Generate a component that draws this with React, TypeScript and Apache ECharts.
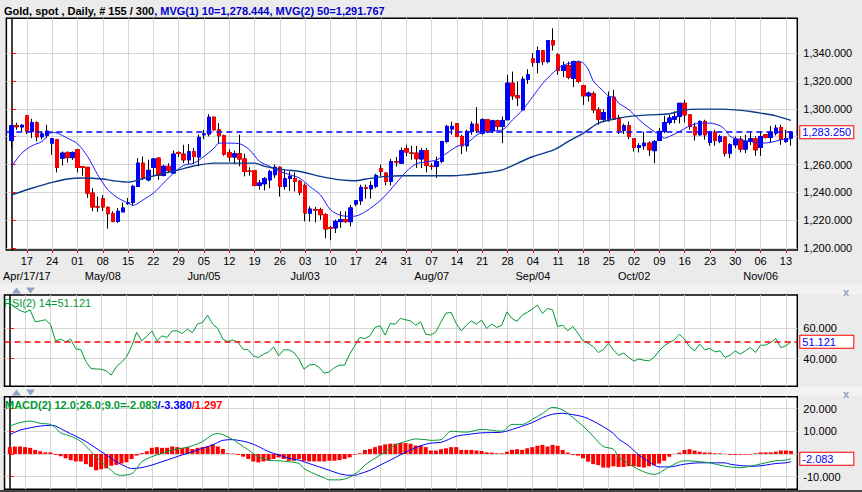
import React, { useEffect, useRef } from 'react';
import * as echarts from 'echarts';

const START_DATE = '2017-04-12';
const N = 155;

function tradingDays(start: string, n: number): string[] {
  const out: string[] = [];
  const d = new Date(start + 'T00:00:00Z');
  while (out.length < n) {
    const wd = d.getUTCDay();
    if (wd !== 0 && wd !== 6) out.push(d.toISOString().slice(0, 10));
    d.setUTCDate(d.getUTCDate() + 1);
  }
  return out;
}
const dates = tradingDays(START_DATE, N);
const mondayIdx = dates
  .map((s, i) => (new Date(s + 'T00:00:00Z').getUTCDay() === 1 ? i : -1))
  .filter((i) => i >= 0);

const monthMarks: [string, string][] = [
  ['2017-04-17', 'Apr/17/17'],
  ['2017-05-08', 'May/08'],
  ['2017-06-05', 'Jun/05'],
  ['2017-07-03', 'Jul/03'],
  ['2017-08-07', 'Aug/07'],
  ['2017-09-04', 'Sep/04'],
  ['2017-10-02', 'Oct/02'],
  ['2017-11-06', 'Nov/06'],
];
const monthIdx = monthMarks.map((m) => dates.indexOf(m[0]));

const opens = [
  1277.3, 1288.0, 1287.0, 1295.0, 1283.8, 1290.0, 1280.0, 1281.0, 1275.4, 1277.8,
  1264.6, 1268.7, 1265.0, 1270.6, 1258.5, 1258.0, 1239.5, 1229.7, 1235.5, 1229.2,
  1224.7, 1219.2, 1226.0, 1232.0, 1232.8, 1244.3, 1261.0, 1249.0, 1258.0, 1264.6,
  1252.2, 1258.7, 1253.9, 1268.7, 1267.5, 1263.4, 1269.2, 1265.4, 1281.4, 1281.9,
  1294.0, 1285.0, 1280.7, 1268.7, 1265.4, 1267.7, 1264.0, 1255.3, 1255.5, 1245.0,
  1246.2, 1249.0, 1252.7, 1258.0, 1244.3, 1250.0, 1250.0, 1248.0, 1245.0, 1225.0,
  1227.5, 1227.5, 1224.0, 1214.5, 1214.5, 1219.0, 1220.4, 1219.0, 1231.6, 1234.0,
  1243.2, 1242.6, 1244.3, 1257.0, 1253.9, 1247.9, 1262.0, 1261.0, 1271.4, 1268.3,
  1268.2, 1264.0, 1270.0, 1258.8, 1258.7, 1262.2, 1276.6, 1285.5, 1289.3, 1280.2,
  1273.5, 1283.8, 1289.0, 1282.6, 1292.2, 1284.3, 1291.4, 1287.4, 1292.2, 1318.5,
  1309.4, 1299.3, 1321.3, 1336.0, 1333.3, 1341.7, 1334.0, 1349.0, 1338.8, 1327.6,
  1331.1, 1322.0, 1333.5, 1316.6, 1309.4, 1310.8, 1299.3, 1292.6, 1292.6, 1308.4,
  1293.4, 1284.5, 1287.8, 1278.5, 1272.3, 1273.5, 1275.4, 1270.0, 1277.3, 1283.8,
  1290.2, 1292.6, 1294.5, 1304.0, 1295.7, 1287.0, 1281.4, 1291.0, 1275.9, 1283.3,
  1276.6, 1279.7, 1268.2, 1274.2, 1278.2, 1271.1, 1276.6, 1278.5, 1272.3, 1281.4,
  1279.5, 1282.6, 1286.6, 1276.6, 1279.0,
];
const closes = [
  1287.8, 1287.2, 1288.2, 1283.8, 1290.2, 1280.0, 1282.0, 1284.0, 1278.5, 1258.0,
  1268.2, 1265.0, 1268.7, 1258.0, 1258.0, 1239.5, 1229.5, 1229.5, 1229.5, 1224.7,
  1219.2, 1226.4, 1228.8, 1232.5, 1244.3, 1261.0, 1250.3, 1255.8, 1264.0, 1252.2,
  1258.7, 1255.8, 1267.5, 1268.0, 1263.4, 1269.2, 1265.8, 1279.5, 1282.0, 1294.0,
  1285.0, 1280.7, 1267.5, 1265.4, 1267.7, 1264.0, 1255.0, 1255.0, 1245.0, 1246.7,
  1249.8, 1255.0, 1258.0, 1244.3, 1249.8, 1251.5, 1248.0, 1240.0, 1225.2, 1228.0,
  1227.4, 1224.0, 1213.7, 1214.2, 1219.2, 1220.4, 1219.0, 1228.8, 1234.0, 1243.6,
  1243.0, 1245.0, 1252.2, 1255.0, 1247.9, 1262.2, 1261.8, 1269.9, 1269.0, 1268.1,
  1264.2, 1270.0, 1259.4, 1258.6, 1262.2, 1276.6, 1287.4, 1287.4, 1280.2, 1273.5,
  1283.8, 1289.0, 1284.3, 1292.2, 1284.3, 1291.4, 1287.4, 1291.7, 1318.5, 1309.4,
  1308.0, 1321.3, 1324.5, 1333.3, 1341.7, 1334.0, 1349.0, 1346.0, 1327.6, 1331.1,
  1322.8, 1334.0, 1319.7, 1309.4, 1311.3, 1299.3, 1292.6, 1297.4, 1308.4, 1292.6,
  1284.5, 1287.8, 1280.2, 1272.3, 1273.7, 1275.4, 1270.6, 1276.6, 1283.8, 1290.2,
  1293.4, 1294.5, 1304.0, 1295.7, 1287.4, 1281.4, 1291.0, 1281.4, 1283.3, 1277.3,
  1280.2, 1268.2, 1274.2, 1278.2, 1271.1, 1276.6, 1278.5, 1270.6, 1280.2, 1279.5,
  1283.3, 1286.2, 1278.2, 1278.7, 1283.25,
];
const lows = [
  1272.3, 1285.0, 1284.0, 1281.9, 1279.0, 1276.6, 1278.0, 1279.0, 1267.0, 1254.4,
  1259.4, 1261.5, 1263.4, 1254.4, 1252.0, 1236.0, 1226.4, 1226.0, 1226.6, 1214.0,
  1218.5, 1218.0, 1226.0, 1231.0, 1230.4, 1244.3, 1249.0, 1248.0, 1251.5, 1249.0,
  1251.5, 1253.9, 1253.9, 1265.4, 1261.0, 1260.3, 1260.6, 1258.7, 1278.2, 1280.2,
  1284.3, 1275.4, 1266.3, 1262.2, 1260.3, 1258.7, 1251.5, 1252.0, 1244.3, 1242.0,
  1241.4, 1243.0, 1250.3, 1237.0, 1242.0, 1241.0, 1240.6, 1238.0, 1219.2, 1219.0,
  1218.5, 1220.3, 1207.0, 1205.6, 1210.8, 1214.5, 1218.0, 1215.6, 1230.0, 1231.0,
  1235.5, 1235.5, 1243.0, 1251.5, 1245.0, 1245.0, 1258.7, 1260.6, 1266.0, 1263.4,
  1257.5, 1257.5, 1254.4, 1256.2, 1250.3, 1261.0, 1275.4, 1281.4, 1279.7, 1267.5,
  1269.4, 1281.4, 1282.6, 1281.4, 1282.6, 1282.6, 1285.0, 1275.4, 1292.2, 1306.5,
  1302.0, 1299.3, 1318.0, 1330.4, 1325.6, 1331.6, 1332.8, 1342.0, 1324.5, 1322.8,
  1321.3, 1315.6, 1318.5, 1302.9, 1305.3, 1297.0, 1288.6, 1290.8, 1290.8, 1292.2,
  1282.0, 1282.0, 1278.2, 1269.4, 1268.7, 1270.6, 1266.3, 1260.9, 1277.3, 1282.6,
  1288.6, 1289.6, 1289.6, 1290.2, 1285.0, 1277.3, 1280.7, 1277.8, 1273.5, 1273.5,
  1275.4, 1265.8, 1264.6, 1271.8, 1268.7, 1268.2, 1274.0, 1266.3, 1266.3, 1278.7,
  1276.0, 1280.9, 1274.2, 1275.6, 1273.5,
];
const highs = [
  1288.5, 1290.0, 1289.0, 1295.7, 1292.9, 1291.0, 1284.0, 1288.6, 1279.0, 1278.5,
  1269.4, 1269.4, 1269.4, 1271.0, 1258.7, 1258.2, 1243.0, 1237.0, 1238.0, 1230.0,
  1226.4, 1228.8, 1232.8, 1236.0, 1245.5, 1264.6, 1265.8, 1263.4, 1264.6, 1265.0,
  1259.9, 1261.0, 1270.1, 1269.4, 1274.2, 1274.7, 1271.8, 1281.4, 1285.0, 1296.2,
  1294.5, 1289.7, 1281.4, 1271.0, 1270.0, 1281.4, 1267.7, 1258.0, 1256.2, 1249.0,
  1251.0, 1256.2, 1260.0, 1258.7, 1256.2, 1255.0, 1254.4, 1249.0, 1246.5, 1230.0,
  1229.5, 1229.0, 1225.0, 1216.0, 1220.4, 1226.4, 1226.4, 1231.0, 1234.5, 1245.5,
  1245.5, 1248.0, 1253.4, 1260.0, 1254.0, 1264.0, 1265.4, 1272.3, 1274.2, 1273.5,
  1273.5, 1271.8, 1271.8, 1261.0, 1265.8, 1276.8, 1288.5, 1290.8, 1289.8, 1281.4,
  1285.0, 1291.0, 1301.2, 1293.4, 1292.4, 1292.2, 1292.2, 1294.5, 1324.5, 1326.8,
  1319.7, 1323.3, 1328.5, 1340.0, 1344.8, 1342.4, 1349.6, 1357.9, 1340.0, 1334.0,
  1334.0, 1334.7, 1334.7, 1317.3, 1312.5, 1312.5, 1301.2, 1299.8, 1312.5, 1313.7,
  1295.7, 1289.3, 1290.9, 1278.6, 1275.4, 1283.6, 1276.6, 1277.8, 1286.2, 1295.0,
  1295.7, 1298.1, 1304.1, 1306.5, 1295.8, 1290.0, 1291.7, 1292.2, 1283.8, 1285.0,
  1281.4, 1280.2, 1275.4, 1280.2, 1280.2, 1281.4, 1283.8, 1280.2, 1283.8, 1281.9,
  1287.8, 1288.6, 1288.6, 1285.0, 1284.0,
];

// moving averages: [day index, value]
const ma10: [number, number][] = [
  [0, 1258.7], [2, 1268.2], [4, 1273.5], [6, 1276.6], [8, 1283], [9, 1282.6], [11, 1279], [13, 1275],
  [15, 1265.8], [17, 1252.7], [19, 1242], [21, 1236], [23, 1232.4], [24, 1230.7], [26, 1234.7], [28, 1239.5],
  [30, 1246.7], [32, 1253.9], [34, 1259.4], [36, 1261], [38, 1265.8], [40, 1271.8], [41, 1275.4], [43, 1275.4],
  [45, 1275], [47, 1270.6], [49, 1262.2], [51, 1258.7], [53, 1255], [55, 1252.7], [57, 1250], [59, 1244],
  [61, 1238.3], [63, 1227.5], [65, 1223.5], [67, 1222.8], [68, 1223], [70, 1226.4], [73, 1234.7], [76, 1246.7],
  [78, 1255], [80, 1260.6], [82, 1262], [84, 1263.4], [86, 1268.2], [88, 1273], [90, 1275.4], [92, 1281.4],
  [94, 1283.8], [97, 1285], [99, 1292.2], [101, 1299.3], [103, 1309], [105, 1318.5], [107, 1326], [108, 1329],
  [109, 1331.5], [111, 1333.3], [112, 1334], [113, 1332.8], [114, 1328], [115, 1319.7], [117, 1312.5], [118, 1309],
  [119, 1308.4], [120, 1304], [122, 1299.3], [124, 1292.2], [126, 1286.2], [128, 1281.4], [129, 1279], [130, 1280.2],
  [132, 1283.8], [134, 1287.8], [136, 1289.8], [138, 1289.8], [140, 1287.8], [141, 1285], [142, 1280.2], [144, 1277.8],
  [146, 1276.6], [148, 1275.4], [150, 1275.9], [152, 1277.8], [154, 1278.4],
];
const ma50: [number, number][] = [
  [0, 1238.3], [4, 1243], [8, 1247.2], [11, 1249.6], [14, 1250.3], [18, 1249.6], [20, 1248.4], [23, 1247.4],
  [26, 1250], [29, 1252.7], [33, 1256.2], [36, 1259], [40, 1261], [44, 1261], [48, 1261], [50, 1258.7],
  [54, 1256.2], [57, 1255], [61, 1251.5], [65, 1249], [68, 1248.4], [70, 1249.6], [74, 1251.5], [77, 1252],
  [80, 1252], [84, 1252], [87, 1252], [90, 1252.7], [93, 1253.9], [97, 1256.2], [100, 1261], [103, 1265.8],
  [107, 1270.3], [110, 1276.6], [113, 1282.6], [116, 1289.8], [120, 1293.4], [123, 1295], [126, 1295.7], [130, 1296.5],
  [133, 1299.3], [136, 1299.8], [140, 1299.8], [143, 1299.3], [146, 1298.1], [148, 1297], [151, 1295], [154, 1291.8],
];

const rsi = [
  77, 74, 72, 70.7, 72.4, 64.4, 65.1, 65.8, 62.9, 51.8,
  52.9, 51.1, 52.9, 46.5, 45.8, 38, 33.3, 33, 32.9, 31.8,
  29, 34.5, 37.5, 41, 48, 57.5, 51.8, 54.7, 58.4, 51.8,
  55.1, 54, 58.4, 58.4, 56.7, 59.6, 57.3, 62.9, 64, 68.9,
  62.9, 60, 52.9, 51.3, 52.4, 50.7, 46.2, 45.8, 41.8, 40.7,
  42.9, 44.4, 47.7, 41.8, 45.8, 45.8, 44, 39.6, 32.9, 35.6,
  36.2, 34, 30.2, 31.1, 34, 35.6, 35.6, 42.9, 48.4, 54,
  53.3, 55.1, 60.7, 61.8, 55.6, 63.3, 62.9, 66.7, 65.8, 65.1,
  62.2, 64.4, 56.2, 55.6, 57.8, 64.4, 70.2, 70.7, 63.3, 58.4,
  62.2, 65.1, 62.9, 65.6, 60, 62.9, 60.7, 62.2, 71.1, 66.7,
  64.7, 68.9, 70.7, 72.9, 75.6, 70, 73.3, 72.4, 61.3, 62.2,
  58.4, 61.3, 56.9, 51.8, 50.2, 48, 44, 45.8, 50.2, 45.8,
  42.2, 43.6, 40.7, 38.4, 39.6, 38.9, 38.4, 40.7, 45.1, 48.4,
  50.7, 52.4, 56.2, 52.9, 48, 45.1, 49.6, 45.8, 46.7, 44.4,
  45.1, 40.7, 42.2, 45.1, 42.9, 45.1, 47.3, 44, 48.9, 48.9,
  50.7, 53.3, 47.3, 48.4, 51.121,
];

const macdLine: [number, number][] = [
  [0, 12.3], [2, 13.8], [4, 14.5], [6, 13.5], [8, 13], [9, 11.5], [10, 9.3], [12, 7.8], [14, 5.5], [16, 1],
  [18, -3.4], [20, -7.2], [21, -9], [22, -9.4], [24, -8.7], [25, -6.4], [26, -3.4], [28, -1.2], [30, 0.3],
  [32, 1.8], [34, 2.5], [36, 3.6], [38, 5.5], [40, 8.5], [41, 9], [42, 8.5], [44, 6.3], [45, 4.8], [47, 1.8],
  [49, -1.2], [51, -2.7], [53, -3], [55, -3.4], [57, -4.2], [58, -6.4], [60, -8.7], [62, -10.5], [63, -11.4],
  [65, -11.4], [67, -10.2], [69, -7.2], [70, -4.9], [72, -1.9], [74, 1], [76, 4], [78, 5.5], [80, 6.6], [82, 6.3],
  [83, 6], [85, 6.3], [87, 10], [90, 9.6], [93, 10.8], [97, 10], [99, 13], [101, 13], [103, 15.2], [105, 17.8],
  [107, 20.5], [109, 19.4], [111, 16], [113, 12.3], [115, 7.8], [117, 3.3], [119, 2.1], [120, -1.2], [122, -4.2],
  [124, -6.9], [127, -9], [128, -8.4], [130, -5.7], [133, -3], [136, -3.4], [138, -3.9], [141, -5.4], [144, -6],
  [147, -4.9], [149, -3.9], [151, -3], [153, -2.7], [154, -2.083],
];
const signalLine: [number, number][] = [
  [0, 8.5], [2, 10.5], [4, 11.5], [6, 12.3], [8, 12.6], [9, 12.3], [11, 10], [13, 7.8], [15, 5.5], [17, 2.5],
  [19, -0.4], [21, -3.4], [23, -5.7], [24, -6.4], [26, -6], [28, -4.9], [30, -3.4], [32, -1.9], [34, -0.4],
  [36, 1], [38, 2.5], [40, 4], [42, 6], [44, 6.3], [45, 6], [47, 5.1], [49, 3.3], [51, 1], [53, -0.4],
  [55, -1.9], [57, -2.7], [59, -4.2], [61, -5.7], [63, -7.2], [65, -8.7], [67, -9.4], [68, -9.4], [69, -8.7],
  [71, -7.2], [73, -4.9], [75, -2.7], [77, -0.4], [79, 1.8], [81, 3.6], [83, 4.8], [85, 5.1], [88, 7.8],
  [90, 8.5], [93, 9.3], [97, 9.6], [100, 11.5], [103, 13.8], [105, 16], [107, 17.5], [109, 17.9], [111, 17.3],
  [113, 16.4], [115, 14.5], [117, 12], [119, 9], [120, 6.6], [122, 3.6], [124, -0.4], [126, -3.4], [128, -5.7],
  [130, -5.7], [133, -4.5], [136, -3.9], [138, -3.9], [141, -3.9], [142, -4.5], [144, -5.1], [147, -5.4],
  [149, -4.9], [151, -4.2], [153, -3.9], [154, -3.38],
];
const histogram = [
  3.0, 3.3, 3.3, 3.0, 2.7, 1.8, 1.2, 0.7, 0.7, -0.4,
  -1.0, -1.9, -2.7, -3.3, -3.3, -4.5, -5.7, -7.2, -6.7, -6.3,
  -5.2, -4.8, -4.2, -3.7, -2.2, -0.7, 0.4, 1.2, 2.7, 3.0,
  2.7, 2.7, 3.3, 3.0, 2.7, 3.0, 2.2, 2.7, 3.0, 3.3,
  4.2, 3.3, 2.2, 0.3, 0.2, -0.4, -1.2, -2.2, -3.3, -3.7,
  -3.3, -3.0, -2.2, -1.5, -2.2, -3.0, -3.0, -2.2, -3.0, -3.3,
  -3.3, -3.3, -3.3, -3.0, -3.0, -2.7, -2.2, -1.5, -0.3, 0.3,
  1.8, 2.2, 3.0, 3.7, 4.2, 4.5, 4.5, 4.8, 4.8, 4.5,
  3.7, 3.7, 3.0,
  1.5, 1.5, 2.1, 2.5, 3.0, 3.0, 1.8, 1.8, 1.8, 1.5,
  1.3, 0.7, 0.6, 0.3, 0.3, 1.0, 1.8, 2.1, 1.8, 2.5,
  3.0, 3.6, 4.0, 3.3, 4.0, 3.6, 1.8, 0.6, -0.4, -0.7,
  -1.9, -3.4, -4.5, -4.9, -6.0, -6.0, -5.4, -5.7, -5.7, -5.4,
  -5.4, -5.7, -6.0, -5.4, -4.9, -4.2, -3.0, -1.2, 0.1, 0.6,
  1.8, 2.1, 1.5, 1.0, 0.7, 0.6, 0.3, 0.3, 0.1, -0.4,
  -0.4, -0.3, -0.3, -0.3, 0.3, 0.7, 0.7, 0.7, 1.0, 1.5,
  1.5, 1.297,
];

// tick positions (grid lines / tick marks) and the labels visible next to the value boxes
const priceTicks = [1200, 1220, 1240, 1260, 1280, 1300, 1320, 1340];
const priceLabels = [1200, 1220, 1240, 1260, 1300, 1320, 1340];
const rsiTicks = [40, 60];
const rsiLabels = [40, 60];
const macdTicks = [-10, 0, 10, 20];
const macdLabels = [-10, 10, 20];

const LAST_CLOSE = 1283.25;
const RSI_LAST = 51.121;
const MACD_LAST = -2.083;
const SIGNAL_LAST = -3.38;
const HIST_LAST = 1.297;
const MA10_LAST = 1278.444;
const MA50_LAST = 1291.767;

const FONT = "'Liberation Sans', Arial, Helvetica, sans-serif";
const X_MIN = -1.05;
const X_MAX = 155.25;

const fmt3 = (v: number) =>
  Number(v).toLocaleString('en-US', { minimumFractionDigits: 3, maximumFractionDigits: 3 });

const gridLine = { show: true, lineStyle: { color: '#d6d6d6', width: 1 } };

function lastBox(text: string) {
  return {
    show: true,
    position: 'end',
    formatter: text,
    color: '#0000ff',
    fontSize: 11,
    fontFamily: FONT,
    backgroundColor: '#ffffff',
    borderColor: '#ff0000',
    borderWidth: 1,
    padding: [1, 2, 0, 2],
    width: 49,
    distance: 3,
    opacity: 1,
  };
}

function buildOption() {
  const grids = [
    { left: 4.5, top: 18.3, width: 792.8, height: 231.7 },
    { left: 4.5, top: 295, width: 792.8, height: 91.3 },
    { left: 4.5, top: 396.7, width: 792.8, height: 92.6 },
  ].map((g) => ({ ...g, show: true, borderColor: '#000', borderWidth: 1.5, backgroundColor: '#ffffff' }));

  const panelX = (gridIndex: number) => ({
    type: 'value',
    gridIndex,
    min: X_MIN,
    max: X_MAX,
    axisLine: { show: false },
    axisTick: { show: false, customValues: mondayIdx },
    axisLabel: { show: false, customValues: mondayIdx },
    splitLine: gridLine,
  });

  const panelY = (gridIndex: number, min: number, max: number, ticks: number[], labels: number[]) => ({
    type: 'value',
    gridIndex,
    position: 'right',
    min,
    max,
    axisLine: { show: true, lineStyle: { color: '#000', width: 1.5 } },
    axisTick: { show: true, customValues: ticks, length: 4, lineStyle: { color: '#ff0000' } },
    axisLabel: { customValues: labels, formatter: fmt3, color: '#000', fontSize: 11, fontFamily: FONT, margin: 6 },
    splitLine: gridLine,
  });

  const xAxis = [
    {
      ...panelX(0),
      axisTick: { show: true, customValues: mondayIdx, length: 3, lineStyle: { color: '#ff0000' } },
      axisLabel: {
        show: true,
        customValues: mondayIdx,
        formatter: (v: number) => dates[Math.round(v)].slice(8, 10),
        color: '#000',
        fontSize: 11,
        fontFamily: FONT,
        margin: 5,
      },
    },
    {
      type: 'value',
      gridIndex: 0,
      min: X_MIN,
      max: X_MAX,
      position: 'bottom',
      offset: 15,
      axisLine: { show: false },
      axisTick: { show: false, customValues: monthIdx },
      axisLabel: {
        show: true,
        customValues: monthIdx,
        formatter: (v: number) => {
          const k = monthIdx.indexOf(Math.round(v));
          return k >= 0 ? monthMarks[k][1] : '';
        },
        color: '#000',
        fontSize: 11,
        fontFamily: FONT,
        margin: 5,
      },
      splitLine: { show: false },
    },
    panelX(1),
    panelX(2),
  ];

  const yAxis = [
    panelY(0, 1198.6, 1365.1, priceTicks, priceLabels),
    panelY(1, 21.5, 82.3, rsiTicks, rsiLabels),
    panelY(2, -15.55, 25.2, macdTicks, macdLabels),
  ];

  const wickData = opens.map((o, i) => [i, o, closes[i], lows[i], highs[i]]);
  const bodyData = opens.map((o, i) => [i, o, closes[i], Math.min(o, closes[i]), Math.max(o, closes[i])]);

  const series: any[] = [
    {
      name: 'wicks',
      type: 'candlestick',
      xAxisIndex: 0,
      yAxisIndex: 0,
      barWidth: 4,
      data: wickData,
      itemStyle: { color: '#000', color0: '#000', borderColor: '#000', borderColor0: '#000', borderWidth: 1 },
      silent: true,
      z: 3,
    },
    {
      name: 'Gold',
      type: 'candlestick',
      xAxisIndex: 0,
      yAxisIndex: 0,
      barWidth: 4,
      data: bodyData,
      itemStyle: { color: '#0000ff', color0: '#ff0000', borderColor: '#0000ff', borderColor0: '#ff0000', borderWidth: 1 },
      silent: true,
      z: 4,
      markLine: {
        silent: true,
        symbol: ['none', 'none'],
        lineStyle: { color: '#0000ff', type: [6, 4], width: 1.5 },
        label: lastBox(fmt3(LAST_CLOSE)),
        data: [{ yAxis: LAST_CLOSE }],
      },
    },
    {
      name: 'MVG(1) 10',
      type: 'line',
      xAxisIndex: 0,
      yAxisIndex: 0,
      data: ma10,
      showSymbol: false,
      smooth: 0.3,
      lineStyle: { color: '#1a1aff', width: 1 },
      z: 5,
    },
    {
      name: 'MVG(2) 50',
      type: 'line',
      xAxisIndex: 0,
      yAxisIndex: 0,
      data: ma50,
      showSymbol: false,
      smooth: 0.3,
      lineStyle: { color: '#0a3a8c', width: 1.4 },
      z: 5,
    },
    {
      name: 'RSI',
      type: 'line',
      xAxisIndex: 2,
      yAxisIndex: 1,
      data: rsi.map((v, i) => [i, v]),
      showSymbol: false,
      lineStyle: { color: '#009933', width: 1 },
      markLine: {
        silent: true,
        symbol: ['none', 'none'],
        lineStyle: { color: '#ff0000', type: [6, 4], width: 1.5 },
        label: lastBox(fmt3(RSI_LAST)),
        data: [{ yAxis: RSI_LAST }],
      },
    },
    {
      name: 'Histogram',
      type: 'bar',
      xAxisIndex: 3,
      yAxisIndex: 2,
      barWidth: 4,
      data: histogram.map((v, i) => [i, v]),
      itemStyle: { color: '#ff0000' },
      silent: true,
    },
    {
      name: 'Signal',
      type: 'line',
      xAxisIndex: 3,
      yAxisIndex: 2,
      data: signalLine,
      showSymbol: false,
      smooth: 0.3,
      lineStyle: { color: '#0000ff', width: 1 },
    },
    {
      name: 'MACD',
      type: 'line',
      xAxisIndex: 3,
      yAxisIndex: 2,
      data: macdLine,
      showSymbol: false,
      smooth: 0.3,
      lineStyle: { color: '#009933', width: 1 },
      markLine: {
        silent: true,
        symbol: ['none', 'none'],
        lineStyle: { color: 'rgba(0,0,0,0)', width: 0 },
        label: lastBox(fmt3(MACD_LAST)),
        data: [{ yAxis: MACD_LAST }],
      },
    },
  ];

  const titles = [
    {
      left: 4,
      top: 5,
      padding: 0,
      text: `{a|Gold, spot , Daily, # ${N} / 300}{b|, MVG(1) 10=${fmt3(MA10_LAST)}, MVG(2) 50=${fmt3(MA50_LAST)}}`,
      textStyle: {
        rich: {
          a: { color: '#000000', fontSize: 11, fontFamily: FONT },
          b: { color: '#0000cc', fontSize: 11, fontFamily: FONT },
        },
      },
    },
    {
      left: 4,
      top: 297,
      padding: 0,
      text: `RSI(2) 14=${fmt3(RSI_LAST)}`,
      textStyle: { color: '#009933', fontSize: 11, fontFamily: FONT, fontWeight: 'normal' },
    },
    {
      left: 5,
      top: 399,
      padding: 0,
      text: `{g|MACD(2) 12.0;26.0;9.0=${fmt3(MACD_LAST)}}{b|/${fmt3(SIGNAL_LAST)}}{r|/${fmt3(HIST_LAST)}}`,
      textStyle: {
        rich: {
          g: { color: '#009933', fontSize: 11, fontFamily: FONT },
          b: { color: '#0000ff', fontSize: 11, fontFamily: FONT },
          r: { color: '#ff0000', fontSize: 11, fontFamily: FONT },
        },
      },
    },
  ];

  const arrowColor = '#8fa3c4';
  const arrows = (y: number) => [
    { type: 'polygon', shape: { points: [[12, y + 7], [16.5, y + 1], [21, y + 7]] }, style: { fill: arrowColor } },
    { type: 'polygon', shape: { points: [[26, y + 1], [30.5, y + 7], [35, y + 1]] }, style: { fill: arrowColor } },
    { type: 'text', x: 843, y: y, style: { text: 'x', fill: arrowColor, fontSize: 11, fontWeight: 'bold', fontFamily: FONT } },
  ];

  const graphic = [
    { type: 'rect', shape: { x: 0, y: 284, width: 862, height: 10.5 }, style: { fill: '#f2f2f2' }, z: -5 },
    { type: 'rect', shape: { x: 0, y: 387, width: 862, height: 9.5 }, style: { fill: '#f2f2f2' }, z: -5 },
    { type: 'rect', shape: { x: 0, y: 490, width: 862, height: 2 }, style: { fill: '#444444' }, z: -5 },
    ...arrows(286.5),
    ...arrows(388.5),
  ];

  return {
    animation: false,
    backgroundColor: '#ebebeb',
    textStyle: { fontFamily: FONT },
    title: titles,
    grid: grids,
    xAxis,
    yAxis,
    series,
    graphic,
  };
}

export default function App() {
  const ref = useRef<HTMLDivElement>(null);
  useEffect(() => {
    if (!ref.current) return;
    const chart = echarts.init(ref.current, undefined, { renderer: 'svg' });
    chart.setOption(buildOption() as any);
    return () => chart.dispose();
  }, []);
  return (
    <div
      ref={ref}
      style={{ position: 'fixed', left: 0, top: 0, width: 862, height: 492 }}
    />
  );
}
